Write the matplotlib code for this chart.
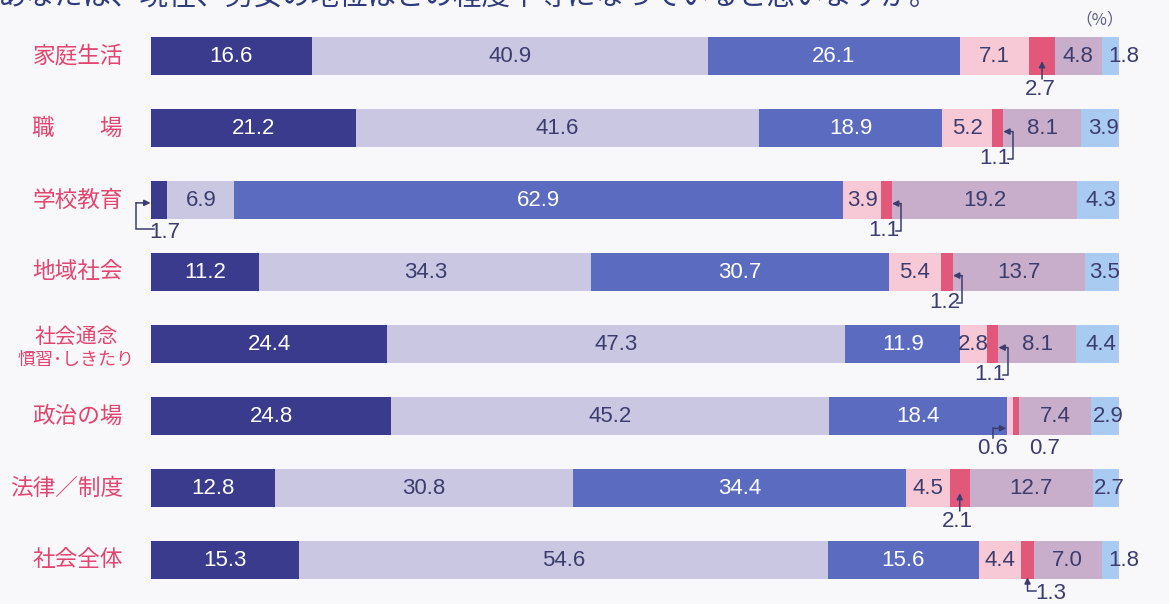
import numpy as np
import matplotlib.pyplot as plt

plt.rcParams['font.family'] = ['Noto Sans CJK JP', 'DejaVu Sans']

categories = ['家庭生活', '職\u3000\u3000場', '学校教育', '地域社会', '社会通念',
              '政治の場', '法律／制度', '社会全体']
series = ['男性の方が非常に優遇されている', 'どちらかといえば男性の方が優遇されている',
          '平等', 'どちらかといえば女性の方が優遇されている',
          '女性の方が非常に優遇されている', 'わからない', '無回答']
v_male_much = [16.6, 21.2, 1.7, 11.2, 24.4, 24.8, 12.8, 15.3]
v_male_some = [40.9, 41.6, 6.9, 34.3, 47.3, 45.2, 30.8, 54.6]
v_equal = [26.1, 18.9, 62.9, 30.7, 11.9, 18.4, 34.4, 15.6]
v_female_some = [7.1, 5.2, 3.9, 5.4, 2.8, 0.6, 4.5, 4.4]
v_female_much = [2.7, 1.1, 1.1, 1.2, 1.1, 0.7, 2.1, 1.3]
v_unknown = [4.8, 8.1, 19.2, 13.7, 8.1, 7.4, 12.7, 7.0]
v_noanswer = [1.8, 3.9, 4.3, 3.5, 4.4, 2.9, 2.7, 1.8]

title = 'あなたは、現在、男女の地位はどの程度平等になっていると思いますか。'

colors = ['#3a3b8c', '#cac7e2', '#5b6cc0', '#f7c9d6', '#e2587b', '#c8aecb', '#a9caf1']
txt_colors = ['white', '#3c3d6e', 'white', '#3c3d6e', '#3c3d6e', '#3c3d6e', '#3c3d6e']
label_color = '#e2466f'
dark = '#3c3d6e'

data = np.array([v_male_much, v_male_some, v_equal, v_female_some,
                 v_female_much, v_unknown, v_noanswer]).T
starts = np.cumsum(data, axis=1) - data

fig = plt.figure(figsize=(11.69, 6.04), dpi=100)
fig.patch.set_facecolor('#f8f8fa')
ax = fig.add_axes([151 / 1169, 8 / 604, 968 / 1169, 576 / 604])
ax.set_xlim(0, 100)
ax.set_ylim(7.5, -0.5)
ax.axis('off')

y = np.arange(len(categories))
for j in range(len(series)):
    ax.barh(y, data[:, j], left=starts[:, j], height=0.52, color=colors[j],
            edgecolor='none')

num_font = dict(family=['Liberation Sans', 'DejaVu Sans'], fontsize=16)

# values inside the segments
for i in range(len(categories)):
    for j in range(len(series)):
        v = data[i, j]
        if j == 4 or v < 1.0 or (j == 0 and v < 2):
            continue
        if j == 6 and v < 2.5:
            ax.text(starts[i, j] + 0.65, i, f'{v:.1f}', ha='left', va='center',
                    color=dark, **num_font)
        elif j == 6:
            ax.text(starts[i, j] + v / 2 + 0.3, i, f'{v:.1f}', ha='center',
                    va='center', color=dark, **num_font)
        else:
            ax.text(starts[i, j] + v / 2, i, f'{v:.1f}', ha='center',
                    va='center', color=txt_colors[j], **num_font)


def leader(pts):
    xs = [p[0] for p in pts]
    ys = [p[1] for p in pts]
    ax.plot(xs[:-1], ys[:-1], color=dark, lw=1.1, clip_on=False,
            solid_joinstyle='miter')
    ax.annotate('', xy=pts[-1], xytext=pts[-2], annotation_clip=False,
                arrowprops=dict(arrowstyle='-|>', color=dark, lw=1.1,
                                shrinkA=0, shrinkB=0, mutation_scale=9))


def small_label(x, yy, v):
    ax.text(x, yy, f'{v:.1f}', ha='center', va='center', color=dark,
            clip_on=False, **num_font)


# small values with leader arrows
red = 4
for i in range(len(categories)):
    v = data[i, red]
    l = starts[i, red]
    r = l + v
    c = l + v / 2
    if i in (0, 6):
        small_label(c - 0.2, i + 0.46, v)
        leader([(c, i + 0.32), (c, i + 0.07)])
    elif i == 5:
        p = starts[i, 3]
        small_label(p - 1.5, i + 0.45, data[i, 3])
        leader([(p - 1.4, i + 0.3), (p - 1.4, i + 0.17), (p - 0.05, i + 0.17)])
        small_label(c + 3.0, i + 0.45, v)
    elif i == 7:
        ax.text(r + 0.1, i + 0.47, f'{v:.1f}', ha='left', va='center',
                color=dark, clip_on=False, **num_font)
        leader([(r + 0.2, i + 0.43), (c, i + 0.43), (c, i + 0.24)])
    else:
        small_label(r - 0.8, i + 0.43, v)
        leader([(r + 0.5, i + 0.43), (r + 1.0, i + 0.43), (r + 1.0, i + 0.05),
                (r + 0.05, i + 0.05)])

# 学校教育 1.7 on the left
v = data[2, 0]
small_label(1.4, 2.45, v)
leader([(0.3, 2.4), (-1.55, 2.4), (-1.55, 2.04), (-0.05, 2.04)])

# category labels
for i, name in enumerate(categories):
    if i == 4:
        ax.text(-7.75, i - 0.1, name, ha='center', va='center',
                color=label_color, fontsize=15)
        ax.text(-7.75, i + 0.22, '慣習･しきたり', ha='center', va='center',
                color=label_color, fontsize=13)
    else:
        ax.text(-2.9, i, name, ha='right', va='center', color=label_color,
                fontsize=16.3)

fig.text(1100 / 1169, 1 - 20 / 604, '（%）', ha='center', va='center',
         color='#5a5e85', fontsize=12)
fig.text(-0.002, 1 + 3 / 604, title, ha='left', va='center',
         color='#2f3b7c', fontsize=20.5)

fig.savefig('out.png', dpi=100, facecolor=fig.get_facecolor())
